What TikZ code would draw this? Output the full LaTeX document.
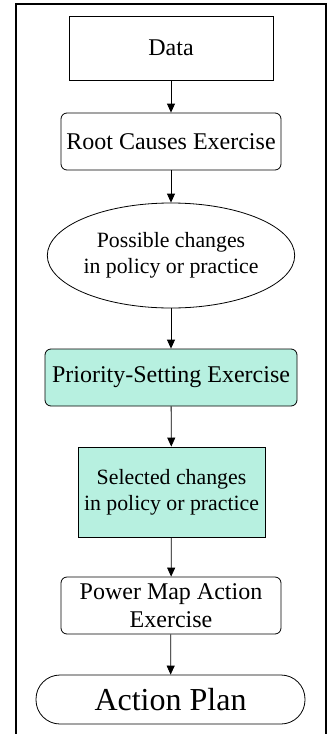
\documentclass[tikz,border=0pt]{standalone}
\usepackage{fontspec}
\setmainfont{Liberation Serif}
\usetikzlibrary{positioning,arrows.meta,shapes.geometric}
\definecolor{aqua}{RGB}{183,240,224}
\tikzset{
  rect/.style={
    draw, rectangle, inner sep=0mm, line width=0.8pt, align=center,
    font=\fontsize{24}{28}\selectfont
  },
  rrect/.style={
    rect, rounded corners=6pt
  },
  oval/.style={
    draw, ellipse, inner sep=0mm, line width=0.8pt, align=center,
    font=\fontsize{21.8}{26}\selectfont
  },
  arr/.style={-{Triangle[length=9pt,width=8pt]}, line width=0.8pt}
}

\begin{document}
\begin{tikzpicture}[x=1pt,y=-1pt]
   \useasboundingbox (0,0) rectangle (333,734);
   \draw[line width=1.6pt] (16,734) -- (16,4) -- (326,4) -- (326,734);

   \node[rect, minimum width=204pt, minimum height=64pt] (data) at (171, 48) {Data};
   \node[rrect, minimum width=220pt, minimum height=57pt] (root) at (171, 141.5) {Root Causes Exercise};
   \node[oval, minimum width=220pt, minimum height=105pt] (poss) at (171, 255.5) {Possible changes\\in policy or practice};
   \node[rrect, fill=aqua, minimum width=252pt, minimum height=57pt] (prio) at (171, 377.5) {Priority-Setting Exercise};
   \node[rect, fill=aqua, minimum width=187pt, minimum height=90pt,
         font=\fontsize{21.8}{26}\selectfont] (sel) at (171.5, 492) {Selected changes\\in policy or practice};
   \node[rrect, minimum width=220pt, minimum height=57pt] (power) at (171, 605.5) {Power Map Action\\Exercise};
   \node[rect, rounded corners=24pt, minimum width=269pt, minimum height=49pt,
         font=\fontsize{32}{36}\selectfont] (plan) at (170.5, 699.5) {Action Plan};

   \draw[arr] (data) -- (root);
   \draw[arr] (root) -- (poss);
   \draw[arr] (poss) -- (prio);
   \draw[arr] (prio) -- (sel);
   \draw[arr] (sel) -- (power);
   \draw[arr] (power) -- (plan);
\end{tikzpicture}
\end{document}
